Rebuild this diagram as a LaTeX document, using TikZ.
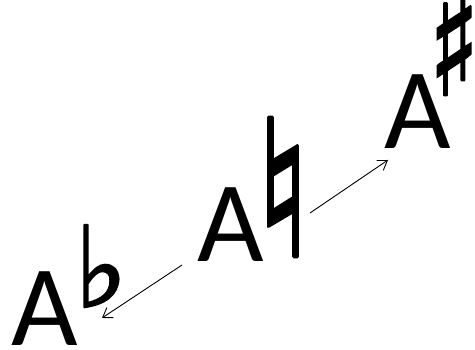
\documentclass[tikz,border=0pt]{standalone}
\usepackage{fontspec}
\setmainfont{Carlito}
\newfontfamily\symfont[FakeBold=2]{DejaVu Sans Bold}
\usetikzlibrary{arrows.meta, positioning}

\tikzset{
    letter/.style={inner sep=0pt, font=\fontsize{115}{115}\selectfont},
    accid/.style={inner sep=0pt},
    move/.style={-{Straight Barb[length=9pt, width=12pt]}, line width=0.9pt}
}

\begin{document}
\begin{tikzpicture}[x=1pt, y=1pt]
    \useasboundingbox (0,0) rectangle (475,350);

    % Flat
    \node[letter] (flatA) at (45, 41.5) {A};
    \node[accid, font=\symfont\fontsize{112}{112}\selectfont] (flatS) at (101, 84) {♭};

    % Natural
    \node[letter] (natA) at (231, 125) {A};
    \node[accid, font=\symfont\fontsize{190}{190}\selectfont] (natS) at (283, 163) {\scalebox{0.8}[1]{♮}};

    % Sharp
    \node[letter] (sharpA) at (418, 238) {A};
    \node[accid, font=\symfont\fontsize{145}{145}\selectfont] (sharpS) at (454, 308) {\scalebox{0.72}[1]{♯}};

    % Arrows
    \coordinate (downFrom) at (182, 85);
    \coordinate (downTo) at (102, 32);
    \coordinate (upFrom) at (310, 137);
    \coordinate (upTo) at (388, 190);
    \draw[move] (downFrom) -- (downTo);
    \draw[move] (upFrom) -- (upTo);
\end{tikzpicture}
\end{document}
